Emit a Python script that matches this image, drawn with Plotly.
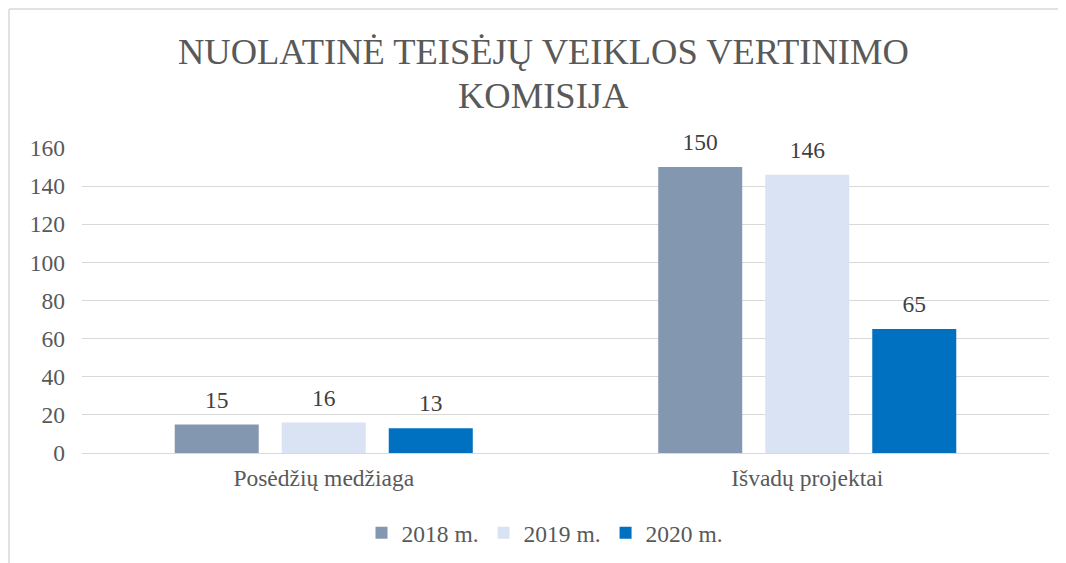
import plotly.graph_objects as go

categories = ["Posėdžių medžiaga", "Išvadų projektai"]
series_names = ["2018 m.", "2019 m.", "2020 m."]
values_2018 = [15, 150]
values_2019 = [16, 146]
values_2020 = [13, 65]
colors = ["#8497B0", "#DAE3F3", "#0070C0"]
title_lines = ["NUOLATINĖ TEISĖJŲ VEIKLOS VERTINIMO", "KOMISIJA"]
y_ticks = [0, 20, 40, 60, 80, 100, 120, 140, 160]

FONT = "Liberation Serif"
TXT = "#595959"
FS = 23.5

# page body has an 8px margin: figure origin sits at (8, 8) of the screenshot
OFF = 8
W, H = 1058, 555
ml, mr, mt, mb = 82 - OFF, 17, 148 - OFF, 110

fig = go.Figure()
for name, vals, col in zip(series_names, [values_2018, values_2019, values_2020], colors):
    fig.add_trace(go.Bar(
        x=categories, y=vals, name=name, marker=dict(color=col, line=dict(width=0)),
    ))
# data labels, grouped like the bars
for name, vals in zip(series_names, [values_2018, values_2019, values_2020]):
    fig.add_trace(go.Scatter(
        x=categories, y=vals, mode="markers+text", text=[str(v) for v in vals],
        textposition="top center", showlegend=False, hoverinfo="skip",
        marker=dict(size=16, opacity=0), cliponaxis=False,
        textfont=dict(family=FONT, size=FS, color="#404040"),
    ))

fig.update_layout(
    width=W, height=H,
    margin=dict(l=ml, r=mr, t=mt, b=mb, autoexpand=False),
    paper_bgcolor="white", plot_bgcolor="white",
    barmode="group", bargap=0.336, bargroupgap=0.215,
    scattermode="group", scattergap=0.336,
    font=dict(family=FONT, size=FS, color=TXT),
    showlegend=True,
    legend=dict(orientation="h", xref="container", yref="container",
                x=(545 - OFF) / W, xanchor="center", y=(H - (533 - OFF)) / H, yanchor="middle",
                font=dict(family=FONT, size=FS, color=TXT),
                itemwidth=30, traceorder="normal"),
    xaxis=dict(showgrid=False, showline=False, ticks="", tickfont=dict(family=FONT, size=FS, color=TXT),
               ticklabelstandoff=8),
    yaxis=dict(range=[0, 160], tickvals=y_ticks, showgrid=True, gridcolor="#D9D9D9", gridwidth=1,
               zeroline=True, zerolinecolor="#D9D9D9", zerolinewidth=1, showline=False,
               ticks="", tickfont=dict(family=FONT, size=FS, color=TXT), ticklabelstandoff=16),
)

ph = H - mt - mb
pw = W - ml - mr
for line, ycen in zip(title_lines, [52, 96]):
    fig.add_annotation(
        text=line, xref="paper", yref="paper",
        x=(543 - OFF - ml) / pw, y=1 + (mt - (ycen - OFF)) / ph,
        xanchor="center", yanchor="middle", showarrow=False,
        font=dict(family=FONT, size=36.5, color=TXT),
    )

# chart border (top and left edges visible in the reference)
fig.add_shape(type="line", xref="paper", yref="paper",
              x0=(1 - ml) / pw, x1=(W - ml) / pw, y0=1 + (mt - 1) / ph, y1=1 + (mt - 1) / ph,
              line=dict(color="#D9D9D9", width=1.5), layer="above")
fig.add_shape(type="line", xref="paper", yref="paper",
              x0=(1 - ml) / pw, x1=(1 - ml) / pw, y0=1 + (mt - 1) / ph, y1=-mb / ph,
              line=dict(color="#D9D9D9", width=1.5), layer="above")

fig.write_html("out.html")
